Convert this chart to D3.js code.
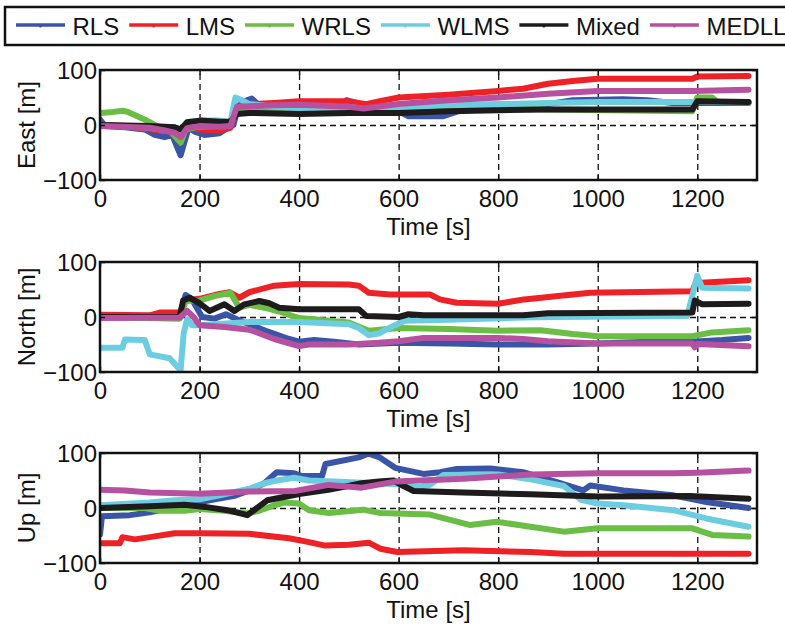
<!DOCTYPE html>
<html><head><meta charset="utf-8">
<script src="https://cdn.jsdelivr.net/npm/d3@7"></script>
<style>
body{margin:0;background:#fff}
svg{display:block}
text{font-family:"Liberation Sans",Arial,Helvetica,sans-serif;fill:#111}
</style>
</head><body>
<svg id="c" width="785" height="624"></svg>
<script>
const seriesNames = ["RLS","LMS","WRLS","WLMS","Mixed","MEDLL"];
const seriesColors = ["#3a55a6","#ee2226","#6abd45","#6dcde0","#1e1b1c","#b7519f"];
const xTicks = [0,200,400,600,800,1000,1200];
const yTicks = [-100,0,100];
const panelLabels = ["East [m]","North [m]","Up [m]"];
const xLabel = "Time [s]";

// ---- East ----
const eastRLS = [[0,10],[10,-2],[50,-4],[90,-8],[110,-18],[130,-22],[145,-18],[155,-40],[162,-55],[170,-30],[178,-5],[190,-12],[210,-18],[240,-15],[260,-3],[268,0],[278,35],[295,45],[305,48],[320,35],[350,32],[400,30],[480,30],[495,45],[515,40],[530,28],[600,25],[620,16],[690,16],[720,25],[800,32],[900,38],[950,45],[1050,47],[1100,45],[1150,40],[1303,40]];
const eastLMS = [[0,0],[50,-2],[100,-8],[140,-12],[160,-16],[175,-5],[200,-8],[240,-10],[262,-5],[275,32],[300,38],[350,40],[400,43],[500,43],[520,40],[535,38],[560,43],[600,50],[700,55],[800,62],[850,66],[900,75],[950,80],[1000,84],[1190,84],[1200,88],[1303,89]];
const eastWRLS = [[0,22],[20,23],[45,26],[55,24],[94,8],[110,0],[140,-10],[155,-25],[162,-32],[172,-8],[200,-3],[240,-2],[262,0],[275,30],[300,30],[350,30],[500,32],[540,27],[600,30],[800,33],[900,28],[1190,25],[1200,50],[1230,50],[1240,42],[1303,41]];
const eastWLMS = [[0,0],[100,-5],[150,-12],[162,-20],[175,5],[200,8],[240,8],[262,5],[272,50],[285,45],[300,38],[350,33],[400,30],[500,33],[540,28],[600,32],[700,36],[800,38],[900,40],[1000,42],[1190,42],[1303,42]];
const eastMixed = [[0,0],[100,-2],[150,-4],[162,-8],[175,5],[200,8],[240,6],[262,6],[275,20],[300,22],[400,20],[500,22],[600,22],[700,25],[800,27],[900,28],[1190,28],[1200,43],[1303,42]];
const eastMEDLL = [[0,-2],[100,-5],[130,-10],[150,-14],[162,-22],[175,-6],[200,-2],[240,-3],[262,-2],[275,33],[300,34],[350,36],[400,37],[500,33],[530,30],[600,38],[700,45],[800,50],[900,57],[1000,62],[1190,62],[1303,64]];

// ---- North ----
const northRLS = [[0,0],[160,-2],[172,40],[185,32],[205,0],[230,-3],[253,5],[275,-4],[307,-16],[333,-25],[380,-40],[400,-45],[430,-42],[470,-45],[520,-50],[600,-47],[700,-48],[800,-50],[900,-50],[1000,-48],[1100,-45],[1190,-45],[1250,-42],[1303,-38]];
const northLMS = [[0,4],[100,3],[120,8],[160,8],[172,30],[200,33],[240,42],[260,45],[280,35],[300,45],[350,57],[400,60],[500,59],[520,57],[540,44],[583,41],[663,41],[683,32],[717,26],[800,24],[852,32],[950,41],[985,44],[1190,47],[1197,62],[1303,67]];
const northWRLS = [[0,0],[160,-3],[172,29],[200,30],[230,38],[262,44],[280,17],[300,22],[340,15],[360,10],[400,-2],[500,-10],[540,-25],[600,-20],[700,-22],[800,-25],[885,-24],[950,-31],[1000,-35],[1190,-35],[1230,-28],[1303,-24]];
const northWLMS = [[0,-56],[45,-56],[50,-41],[90,-42],[100,-68],[140,-75],[150,-85],[162,-97],[168,-30],[175,-4],[185,-15],[200,-15],[300,-9],[400,-9],[500,-13],[520,-20],[540,-33],[560,-30],[583,-19],[612,-7],[700,-5],[850,-1],[918,0],[1180,2],[1200,75],[1210,53],[1303,52]];
const northMixed = [[0,0],[160,0],[167,30],[180,35],[200,25],[220,11],[250,23],[270,11],[290,23],[320,29],[340,25],[360,17],[400,14],[520,14],[535,2],[600,0],[620,5],[650,3],[850,3],[900,7],[1190,8],[1195,30],[1210,23],[1303,24]];
const northMEDLL = [[0,-2],[160,-1],[175,11],[188,0],[200,-15],[250,-18],[300,-23],[350,-40],[400,-53],[420,-50],[500,-50],[560,-47],[600,-44],[650,-38],[800,-38],[850,-40],[900,-44],[1000,-48],[1190,-48],[1195,-55],[1200,-49],[1303,-53]];

// ---- Up ----
const upRLS = [[0,-48],[4,-15],[60,-13],[100,-8],[130,-2],[170,5],[220,14],[270,22],[300,32],[330,45],[355,65],[390,63],[406,58],[446,58],[453,80],[520,92],[540,99],[562,92],[593,73],[650,62],[683,65],[717,71],[784,72],[850,65],[918,47],[971,32],[985,41],[1052,32],[1152,23],[1218,11],[1303,0]];
const upLMS = [[0,-64],[40,-64],[45,-53],[70,-57],[100,-53],[150,-46],[200,-46],[300,-47],[380,-55],[420,-62],[450,-68],[500,-67],[540,-63],[563,-74],[597,-80],[730,-77],[865,-80],[932,-83],[1303,-83]];
const upWRLS = [[0,0],[90,0],[120,-5],[170,-5],[200,-2],[250,-5],[296,-10],[320,-5],[350,5],[370,10],[400,8],[420,-4],[460,-9],[529,-3],[563,-9],[663,-12],[744,-31],[797,-25],[865,-34],[932,-43],[1000,-37],[1190,-37],[1230,-49],[1303,-52]];
const upWLMS = [[0,5],[100,10],[150,14],[200,16],[250,25],[300,35],[330,45],[355,50],[390,55],[420,50],[600,43],[640,38],[663,42],[690,60],[800,61],[865,52],[932,40],[966,15],[1000,8],[1052,5],[1152,-4],[1218,-19],[1303,-34]];
const upMixed = [[0,0],[100,3],[170,6],[211,2],[256,-4],[296,-13],[336,14],[403,26],[459,33],[526,45],[560,48],[590,50],[610,40],[630,31],[730,28],[865,25],[1000,21],[1185,22],[1303,17]];
const upMEDLL = [[0,33],[50,32],[100,28],[200,26],[300,30],[392,31],[459,42],[526,37],[593,48],[730,53],[865,61],[1000,63],[1150,63],[1200,64],[1303,68]];

const panelSeries = [
  [eastRLS, eastLMS, eastWRLS, eastWLMS, eastMixed, eastMEDLL],
  [northRLS, northLMS, northWRLS, northWLMS, northMixed, northMEDLL],
  [upRLS, upLMS, upWRLS, upWLMS, upMixed, upMEDLL]
];

const svg = d3.select("#c");
const L = 100, R = 757, H = 110;
const tops = [70, 262, 453];
const x = d3.scaleLinear().domain([0, 1320]).range([L, R]);
const fmt = d3.format("d");

panelSeries.forEach((series, i) => {
  const top = tops[i], bot = top + H;
  const y = d3.scaleLinear().domain([-100, 100]).range([bot, top]);
  const g = svg.append("g");

  g.append("clipPath").attr("id", "clip" + i)
    .append("rect").attr("x", L).attr("y", top).attr("width", R - L).attr("height", H);

  // grid
  const gx = g.append("g").attr("transform", `translate(0,${bot})`)
    .call(d3.axisBottom(x).tickValues(xTicks.filter(t => t > 0)).tickSize(-H).tickFormat(""));
  gx.select(".domain").remove();
  gx.selectAll("line").attr("stroke", "#111").attr("stroke-width", 1.3).attr("stroke-dasharray", "6,4");
  const gy = g.append("g").attr("transform", `translate(${L},0)`)
    .call(d3.axisLeft(y).tickValues([0]).tickSize(-(R - L)).tickFormat(""));
  gy.select(".domain").remove();
  gy.selectAll("line").attr("stroke", "#111").attr("stroke-width", 1.3).attr("stroke-dasharray", "6,4");

  // data
  const line = d3.line().x(d => x(d[0])).y(d => y(d[1]));
  const lg = g.append("g").attr("clip-path", `url(#clip${i})`);
  series.forEach((s, k) => {
    lg.append("path").datum(s).attr("d", line)
      .attr("fill", "none").attr("stroke", seriesColors[k])
      .attr("stroke-width", 6).attr("stroke-linejoin", "round").attr("stroke-linecap", "round");
  });

  // axes
  const ax = g.append("g").attr("transform", `translate(0,${bot})`)
    .call(d3.axisBottom(x).tickValues(xTicks).tickFormat(fmt).tickSize(-5).tickPadding(10));
  ax.select(".domain").remove();
  ax.selectAll("line").attr("stroke", "#111").attr("stroke-width", 1.5);
  ax.selectAll("text").style("font-size", "24px").attr("fill", "#111");

  const axT = g.append("g").attr("transform", `translate(0,${top})`)
    .call(d3.axisTop(x).tickValues(xTicks).tickSize(-5).tickFormat(""));
  axT.select(".domain").remove();
  axT.selectAll("line").attr("stroke", "#111").attr("stroke-width", 1.5);

  const ay = g.append("g").attr("transform", `translate(${L},0)`)
    .call(d3.axisLeft(y).tickValues(yTicks).tickFormat(fmt).tickSize(-5).tickPadding(3));
  ay.select(".domain").remove();
  ay.selectAll("line").attr("stroke", "#111").attr("stroke-width", 1.5);
  ay.selectAll("text").style("font-size", "24px").attr("fill", "#111").attr("dy", "0.36em");

  const ayR = g.append("g").attr("transform", `translate(${R},0)`)
    .call(d3.axisRight(y).tickValues(yTicks).tickSize(-5).tickFormat(""));
  ayR.select(".domain").remove();
  ayR.selectAll("line").attr("stroke", "#111").attr("stroke-width", 1.5);

  g.append("rect").attr("x", L).attr("y", top).attr("width", R - L).attr("height", H)
    .attr("fill", "none").attr("stroke", "#111").attr("stroke-width", 2.5);

  g.append("text").attr("x", (L + R) / 2).attr("y", bot + 55)
    .attr("text-anchor", "middle").style("font-size", "24px").text(xLabel);

  g.append("text").attr("transform", `translate(35,${(top + bot) / 2}) rotate(-90)`)
    .attr("text-anchor", "middle").style("font-size", "24px").text(panelLabels[i]);
});

// legend
const leg = svg.append("g");
leg.append("rect").attr("x", 5).attr("y", 7).attr("width", 820).attr("height", 38)
  .attr("fill", "#fff").attr("stroke", "#111").attr("stroke-width", 2.5);
let cx = 16;
seriesNames.forEach((name, k) => {
  leg.append("line").attr("x1", cx).attr("x2", cx + 49).attr("y1", 25).attr("y2", 25)
    .attr("stroke", seriesColors[k]).attr("stroke-width", 3.3);
  leg.append("circle").attr("cx", cx + 24.5).attr("cy", 26).attr("r", 1.6).attr("fill", seriesColors[k]);
  const t = leg.append("text").attr("x", cx + 56.5).attr("y", 35)
    .style("font-size", "24px").text(name);
  const w = t.node().getComputedTextLength();
  cx = cx + 56.5 + w + 10;
});
</script>
</body></html>
